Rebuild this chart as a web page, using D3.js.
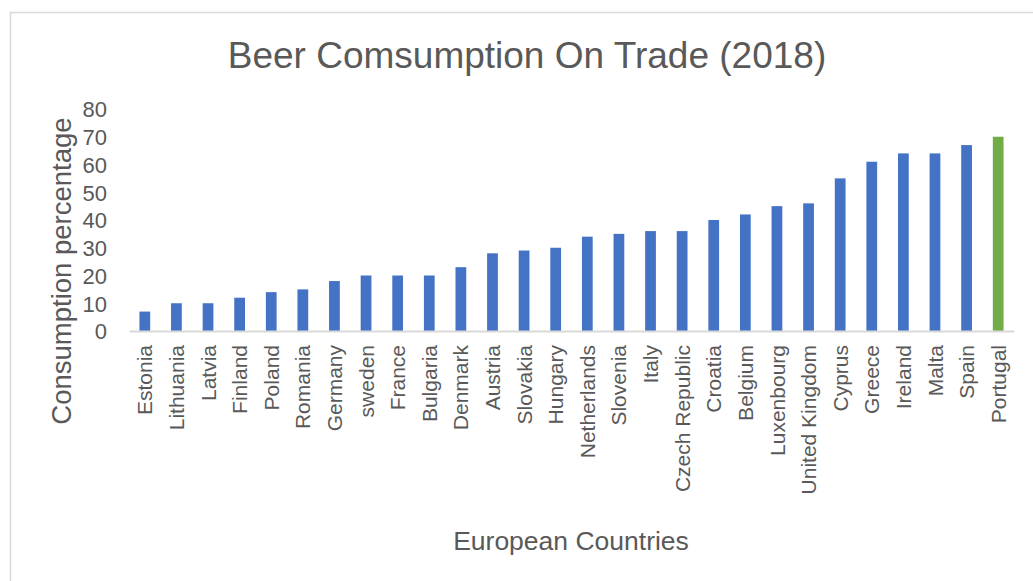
<!DOCTYPE html>
<html>
<head>
<meta charset="utf-8">
<script src="https://cdn.jsdelivr.net/npm/d3@7/dist/d3.min.js"></script>
<style>
  html, body { margin: 0; padding: 0; background: #fff; }
  svg { display: block; font-family: "Liberation Sans", Arial, sans-serif; }
</style>
</head>
<body>
<svg id="chart" width="1033" height="581"></svg>
<script>
// On-trade share of beer consumption by country, 2018
const countries = ["Estonia", "Lithuania", "Latvia", "Finland", "Poland", "Romania", "Germany",
  "sweden", "France", "Bulgaria", "Denmark", "Austria", "Slovakia", "Hungary", "Netherlands",
  "Slovenia", "Italy", "Czech Republic", "Croatia", "Belgium", "Luxenbourg", "United Kingdom",
  "Cyprus", "Greece", "Ireland", "Malta", "Spain", "Portugal"];
const consumption = [7, 10, 10, 12, 14, 15, 18, 20, 20, 20, 23, 28, 29, 30, 34, 35, 36, 36, 40,
  42, 45, 46, 55, 61, 64, 64, 67, 70];
const yTicks = [0, 10, 20, 30, 40, 50, 60, 70, 80];
const highlighted = "Portugal";

const svg = d3.select("#chart");
const textColor = "#595959";

// chart frame
svg.append("rect")
  .attr("x", 10.5).attr("y", 12.5)
  .attr("width", 1040).attr("height", 600)
  .attr("fill", "none").attr("stroke", "#d9d9d9").attr("stroke-width", 1.5);

const plot = { left: 129, right: 1014, top: 109, bottom: 331 };

const x = d3.scaleBand().domain(countries).range([plot.left, plot.right])
  .paddingInner(0.66).paddingOuter(0.33);
const y = d3.scaleLinear().domain([0, 80]).range([plot.bottom, plot.top]);

// bars
svg.append("g").selectAll("rect")
  .data(countries.map((c, i) => ({ c, v: consumption[i] })))
  .join("rect")
  .attr("x", d => x(d.c))
  .attr("y", d => y(d.v))
  .attr("width", x.bandwidth())
  .attr("height", d => y(0) - y(d.v))
  .attr("fill", d => d.c === highlighted ? "#70ad47" : "#4472c4");

// y axis labels (no line, no ticks)
const yAxis = svg.append("g")
  .attr("transform", `translate(${plot.left - 22},0)`)
  .call(d3.axisLeft(y).tickValues(yTicks).tickSize(0).tickPadding(0));
yAxis.select(".domain").remove();
yAxis.selectAll("text")
  .attr("fill", textColor).attr("font-size", 22).attr("dy", "0.36em")
  .attr("font-family", "Liberation Sans, Arial, sans-serif");

// x axis: baseline and rotated category labels
const xAxis = svg.append("g")
  .attr("transform", `translate(0,${plot.bottom})`)
  .call(d3.axisBottom(x).tickSize(0).tickPadding(0));
xAxis.select(".domain")
  .attr("stroke", "#d9d9d9").attr("stroke-width", 2);
xAxis.selectAll("text")
  .attr("fill", textColor).attr("font-size", 21)
  .attr("font-family", "Liberation Sans, Arial, sans-serif")
  .attr("text-anchor", "end")
  .attr("transform", "rotate(-90)")
  .attr("x", -14).attr("y", 0).attr("dy", "0.36em");

// title
svg.append("text")
  .attr("x", 527).attr("y", 68)
  .attr("text-anchor", "middle")
  .attr("fill", textColor).attr("font-size", 37)
  .text("Beer Comsumption On Trade (2018)");

// axis titles
svg.append("text")
  .attr("transform", "translate(71,271) rotate(-90)")
  .attr("text-anchor", "middle")
  .attr("fill", textColor).attr("font-size", 27.5)
  .text("Consumption percentage");

svg.append("text")
  .attr("x", 571).attr("y", 550)
  .attr("text-anchor", "middle")
  .attr("fill", textColor).attr("font-size", 26.5)
  .text("European Countries");
</script>
</body>
</html>
